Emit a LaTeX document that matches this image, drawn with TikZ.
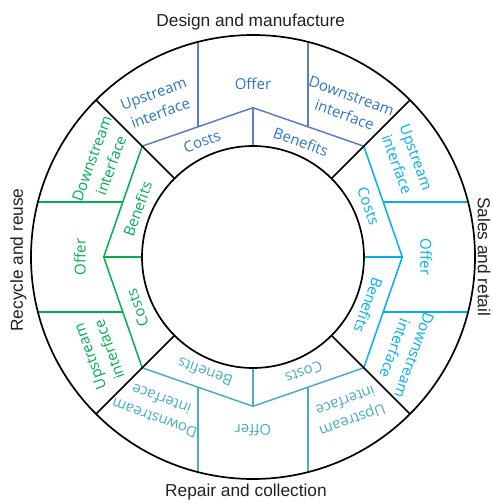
\documentclass[tikz,border=0pt]{standalone}
\usepackage{fontspec}
\setmainfont{Liberation Sans}
\newfontfamily\segfont{Open Sans}
\definecolor{cDesignLine}{HTML}{5B7DC5}
\definecolor{cDesignText}{HTML}{2E75C6}
\definecolor{cSales}{HTML}{00B0F0}
\definecolor{cRepair}{HTML}{4BACC6}
\definecolor{cRecycle}{HTML}{00B050}
\definecolor{cLabel}{HTML}{222222}
\newcommand\myquadrant[4]{%
\begin{scope}[rotate=#1]
  \coordinate (L#4) at (-110.8,110.8);
  \coordinate (P#4) at (0,149.3);
  \coordinate (R#4) at (110.8,110.8);
  \coordinate (B#4) at (0,111);
  \coordinate (la#4) at (-55,130.2);
  \coordinate (lb#4) at (-55,215.1);
  \coordinate (ra#4) at (55,130.2);
  \coordinate (rb#4) at (55,215.1);
  \draw[secline,#2] (L#4) -- (P#4) -- (R#4);
  \draw[secline,#2] (P#4) -- (B#4);
  \draw[secline,#2] (la#4) -- (lb#4);
  \draw[secline,#2] (ra#4) -- (rb#4);
  \node[segtext,text=#3,rotate=#1] (offer#4) at (0,173) {Offer};
  \node[segtext,text=#3,rotate=#1+20] (up#4) at (-96,153.5) {Upstream\\interface};
  \node[segtext,text=#3,rotate=#1-20] (down#4) at (95,151.5) {Downstream\\interface};
  \node[segtext,text=#3,rotate=#1+20] (cost#4) at (-51,115.5) {Costs};
  \node[segtext,text=#3,rotate=#1-20] (ben#4) at (48,115.5) {Benefits};
\end{scope}}
\begin{document}
\begin{tikzpicture}[x=1pt,y=1pt,
  blk/.style={line width=1.7pt, black},
  secline/.style={line width=1.5pt},
  segtext/.style={font=\segfont\fontsize{15}{20.5}\selectfont, align=center, inner sep=0pt},
  lbl/.style={font=\fontsize{17.3}{20}\selectfont, text=cLabel, inner sep=0pt}]
\useasboundingbox (-253,-246) rectangle (239,257);
\myquadrant{0}{cDesignLine}{cDesignText}{d}
\myquadrant{-90}{cSales}{cSales}{s}
\myquadrant{180}{cRepair}{cRepair}{r}
\myquadrant{90}{cRecycle}{cRecycle}{c}
\coordinate (O) at (0,0);
\draw[blk] (O) circle[radius=222];
\draw[blk] (O) circle[radius=111];
\foreach \a in {45,135,225,315}{
  \draw[blk] (\a:111) -- (\a:222);
}
\node[lbl] (design) at (-2.3,235.3) {Design and manufacture};
\node[lbl,rotate=-90] (sales) at (231,0.3) {Sales and retail};
\node[lbl] (repair) at (-7,-235.5) {Repair and collection};
\node[lbl,rotate=90] (recycle) at (-234.7,-3) {Recycle and reuse};
\end{tikzpicture}
\end{document}
